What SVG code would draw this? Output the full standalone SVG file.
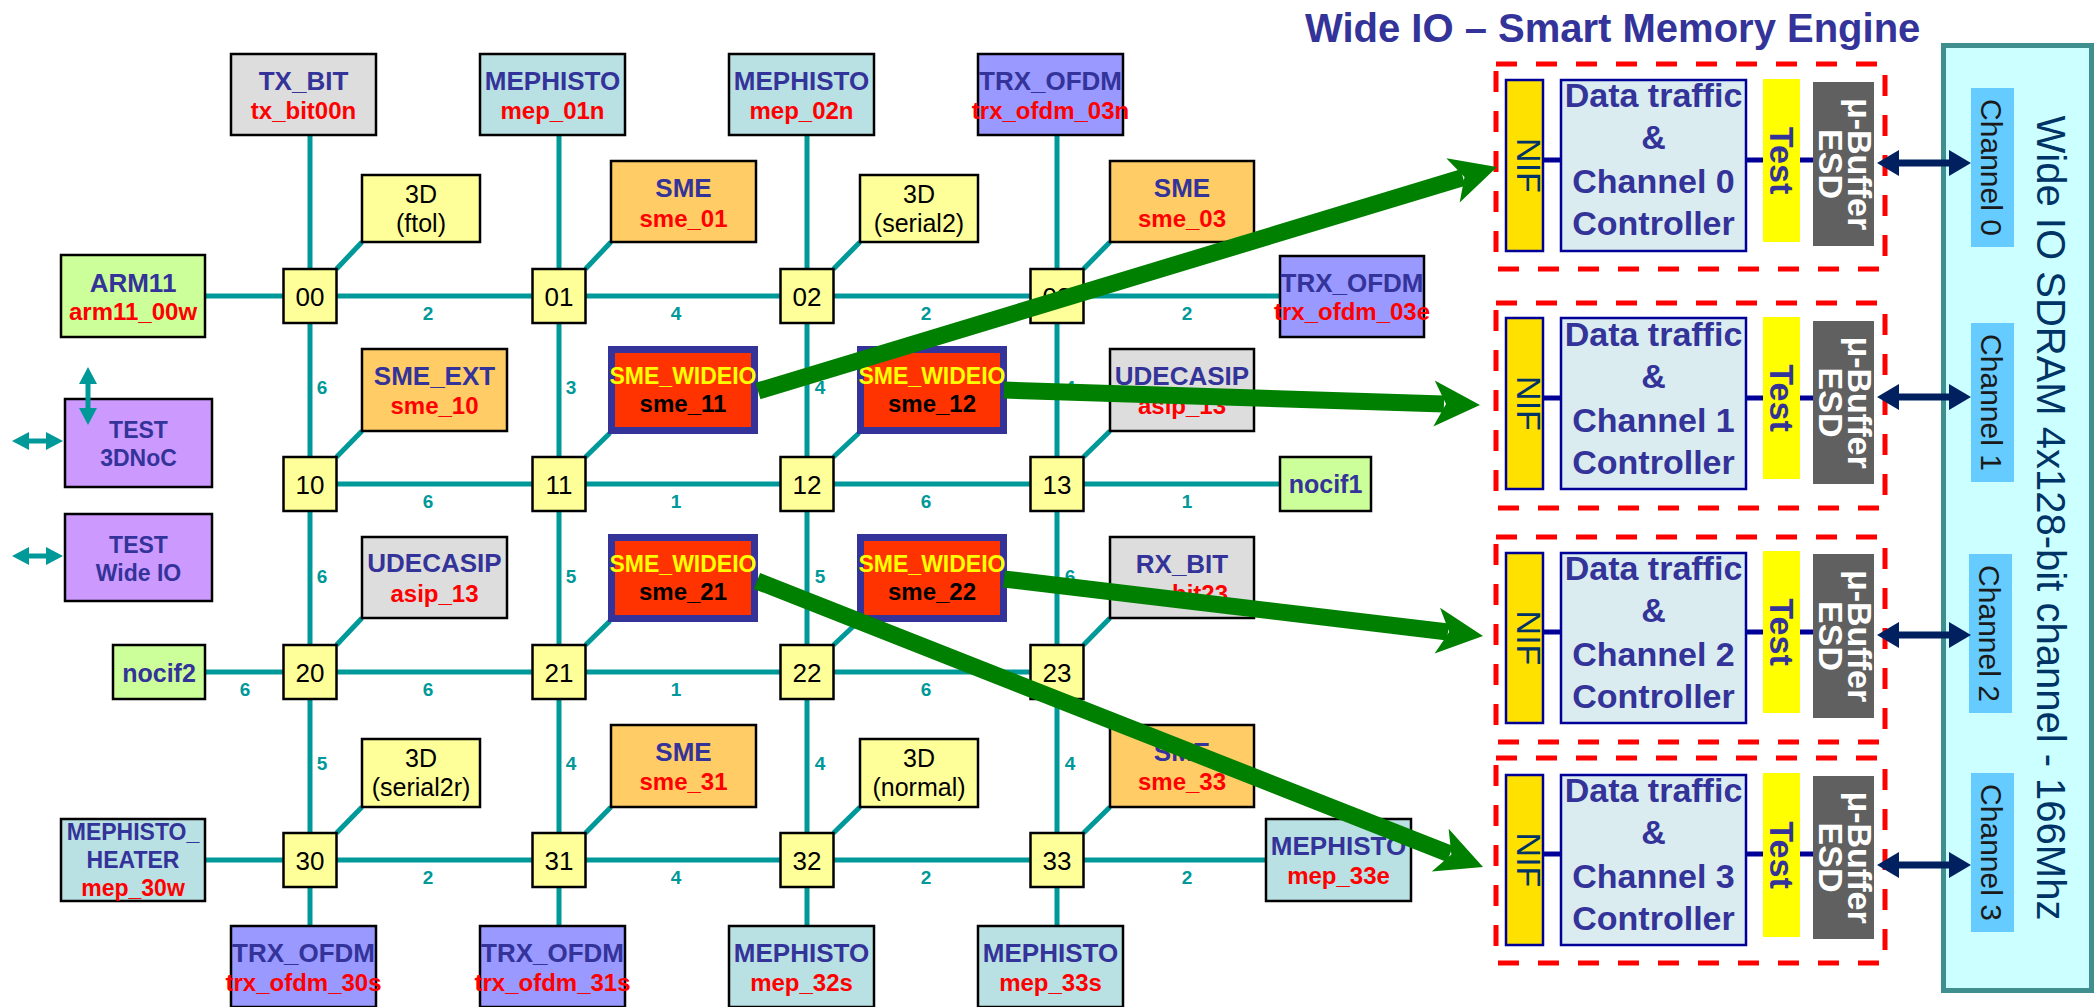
<svg xmlns="http://www.w3.org/2000/svg" xmlns:xlink="http://www.w3.org/1999/xlink" width="2098" height="1007" viewBox="0 0 2098 1007">
<style>
text{font-family:"Liberation Sans",Arial,sans-serif}
.nb{stroke:#000;stroke-width:2.5}
.gray{fill:#DDDDDD}.mep{fill:#B9E0E3}.trx{fill:#9999FF}.sme{fill:#FFCC66}.d3b{fill:#FFFF99}.grn{fill:#CCFF99}.tst{fill:#CC99FF}
.wio{fill:#FF3300;stroke:#333399;stroke-width:7}
.t1{font-weight:bold;font-size:26px;fill:#333399;text-anchor:middle}
.t2{font-weight:bold;font-size:24px;fill:#FF0000;text-anchor:middle}
.t3{font-weight:bold;font-size:23px;fill:#333399;text-anchor:middle}
.ty{font-weight:bold;font-size:23px;fill:#FFFF00;text-anchor:middle}
.tk{font-weight:bold;font-size:24px;fill:#000;text-anchor:middle}
.rt{font-size:26px;fill:#000;text-anchor:middle}
.d3{font-size:25px;fill:#000;text-anchor:middle}
.lk{font-weight:bold;font-size:19px;fill:#009999;text-anchor:middle}
.ln{stroke:#009999;stroke-width:5;fill:none}
.tarr{fill:#009999}
.dash{fill:none;stroke:#FF0000;stroke-width:5;stroke-dasharray:21 19}
.nif{fill:#FFE100;stroke:#000099;stroke-width:2.5}
.dat{fill:#DAECEF;stroke:#000099;stroke-width:2.5}
.tstb{fill:#FFFF00}
.mub{fill:#606060}
.nav{stroke:#000099;stroke-width:5}
.dt{font-weight:bold;font-size:34px;fill:#333399;text-anchor:middle}
.nt{font-size:34px;fill:#003366;text-anchor:middle}
.mt{font-weight:bold;font-size:34px;fill:#FFFFFF;text-anchor:middle}
.ch{fill:#66CCFF}
.cht{font-size:30px;fill:#1a1a1a;text-anchor:middle}
.ga{stroke:#008000;stroke-width:17;fill:none}
.gh{fill:#008000}
.dbl{fill:#002060}
</style>
<defs>
<polygon id="ghead" points="0,0 -46,-23 -34,0 -46,23"/>
<path id="dblarr" d="M1877,0 L1899,-13 L1899,-3.5 L1949,-3.5 L1949,-13 L1971,0 L1949,13 L1949,3.5 L1899,3.5 L1899,13 Z"/>
<path id="tharr" d="M12,0 L29,-9 L29,-2.5 L46,-2.5 L46,-9 L63,0 L46,9 L46,2.5 L29,2.5 L29,9 Z"/>
</defs>
<rect width="2098" height="1007" fill="#FFFFFF"/>

<!-- connectors -->
<g id="connectors">
<line class="ln" x1="310" y1="135" x2="310" y2="926"/>
<line class="ln" x1="559" y1="135" x2="559" y2="926"/>
<line class="ln" x1="807" y1="135" x2="807" y2="926"/>
<line class="ln" x1="1057" y1="135" x2="1057" y2="926"/>
<line class="ln" x1="205" y1="296" x2="1280" y2="296"/>
<line class="ln" x1="310" y1="484" x2="1280" y2="484"/>
<line class="ln" x1="205" y1="672" x2="1057" y2="672"/>
<line class="ln" x1="205" y1="860" x2="1266" y2="860"/>
<line class="ln" x1="336.5" y1="269" x2="362" y2="242"/>
<line class="ln" x1="585.5" y1="269" x2="611" y2="242"/>
<line class="ln" x1="833.5" y1="269" x2="860" y2="242"/>
<line class="ln" x1="1083.5" y1="269" x2="1110" y2="242"/>
<line class="ln" x1="336.5" y1="457" x2="362" y2="431"/>
<line class="ln" x1="585.5" y1="457" x2="610" y2="433"/>
<line class="ln" x1="833.5" y1="457" x2="859" y2="433"/>
<line class="ln" x1="1083.5" y1="457" x2="1110" y2="431"/>
<line class="ln" x1="336.5" y1="645" x2="362" y2="618"/>
<line class="ln" x1="585.5" y1="645" x2="610" y2="621"/>
<line class="ln" x1="833.5" y1="645" x2="859" y2="621"/>
<line class="ln" x1="1083.5" y1="645" x2="1110" y2="618"/>
<line class="ln" x1="336.5" y1="833" x2="362" y2="807"/>
<line class="ln" x1="585.5" y1="833" x2="611" y2="807"/>
<line class="ln" x1="833.5" y1="833" x2="860" y2="807"/>
<line class="ln" x1="1083.5" y1="833" x2="1110" y2="807"/>
<use href="#tharr" xlink:href="#tharr" class="tarr" y="441"/>
<use href="#tharr" xlink:href="#tharr" class="tarr" y="556"/>
<!-- channel internal links -->
<line class="nav" x1="1543" y1="160" x2="1813" y2="160"/>
<line class="nav" x1="1543" y1="398" x2="1813" y2="398"/>
<line class="nav" x1="1543" y1="632" x2="1813" y2="632"/>
<line class="nav" x1="1543" y1="854" x2="1813" y2="854"/>
</g>

<!-- link labels -->
<g id="link-labels">
<text class="lk" x="428" y="320">2</text><text class="lk" x="676" y="320">4</text><text class="lk" x="926" y="320">2</text><text class="lk" x="1187" y="320">2</text>
<text class="lk" x="428" y="508">6</text><text class="lk" x="676" y="508">1</text><text class="lk" x="926" y="508">6</text><text class="lk" x="1187" y="508">1</text>
<text class="lk" x="245" y="696">6</text><text class="lk" x="428" y="696">6</text><text class="lk" x="676" y="696">1</text><text class="lk" x="926" y="696">6</text>
<text class="lk" x="428" y="884">2</text><text class="lk" x="676" y="884">4</text><text class="lk" x="926" y="884">2</text><text class="lk" x="1187" y="884">2</text>
<text class="lk" x="322" y="394">6</text><text class="lk" x="571" y="394">3</text><text class="lk" x="820" y="394">4</text><text class="lk" x="1070" y="394">4</text>
<text class="lk" x="322" y="583">6</text><text class="lk" x="571" y="583">5</text><text class="lk" x="820" y="583">5</text><text class="lk" x="1070" y="583">6</text>
<text class="lk" x="322" y="770">5</text><text class="lk" x="571" y="770">4</text><text class="lk" x="820" y="770">4</text><text class="lk" x="1070" y="770">4</text>
</g>

<!-- routers -->
<g id="r00"><rect class="nb d3b" x="283.5" y="269" width="53" height="54"/><text class="rt" x="310" y="306">00</text></g>
<g id="r01"><rect class="nb d3b" x="532.5" y="269" width="53" height="54"/><text class="rt" x="559" y="306">01</text></g>
<g id="r02"><rect class="nb d3b" x="780.5" y="269" width="53" height="54"/><text class="rt" x="807" y="306">02</text></g>
<g id="r03"><rect class="nb d3b" x="1030.5" y="269" width="53" height="54"/><text class="rt" x="1057" y="306">03</text></g>
<g id="r10"><rect class="nb d3b" x="283.5" y="457" width="53" height="54"/><text class="rt" x="310" y="494">10</text></g>
<g id="r11"><rect class="nb d3b" x="532.5" y="457" width="53" height="54"/><text class="rt" x="559" y="494">11</text></g>
<g id="r12"><rect class="nb d3b" x="780.5" y="457" width="53" height="54"/><text class="rt" x="807" y="494">12</text></g>
<g id="r13"><rect class="nb d3b" x="1030.5" y="457" width="53" height="54"/><text class="rt" x="1057" y="494">13</text></g>
<g id="r20"><rect class="nb d3b" x="283.5" y="645" width="53" height="54"/><text class="rt" x="310" y="682">20</text></g>
<g id="r21"><rect class="nb d3b" x="532.5" y="645" width="53" height="54"/><text class="rt" x="559" y="682">21</text></g>
<g id="r22"><rect class="nb d3b" x="780.5" y="645" width="53" height="54"/><text class="rt" x="807" y="682">22</text></g>
<g id="r23"><rect class="nb d3b" x="1030.5" y="645" width="53" height="54"/><text class="rt" x="1057" y="682">23</text></g>
<g id="r30"><rect class="nb d3b" x="283.5" y="833" width="53" height="54"/><text class="rt" x="310" y="870">30</text></g>
<g id="r31"><rect class="nb d3b" x="532.5" y="833" width="53" height="54"/><text class="rt" x="559" y="870">31</text></g>
<g id="r32"><rect class="nb d3b" x="780.5" y="833" width="53" height="54"/><text class="rt" x="807" y="870">32</text></g>
<g id="r33"><rect class="nb d3b" x="1030.5" y="833" width="53" height="54"/><text class="rt" x="1057" y="870">33</text></g>

<!-- top / bottom nodes -->
<g id="tx_bit00n"><rect class="nb gray" x="231" y="54" width="145" height="81"/><text class="t1" x="303.5" y="90">TX_BIT</text><text class="t2" x="303.5" y="119">tx_bit00n</text></g>
<g id="mep_01n"><rect class="nb mep" x="480" y="54" width="145" height="81"/><text class="t1" x="552.5" y="90">MEPHISTO</text><text class="t2" x="552.5" y="119">mep_01n</text></g>
<g id="mep_02n"><rect class="nb mep" x="729" y="54" width="145" height="81"/><text class="t1" x="801.5" y="90">MEPHISTO</text><text class="t2" x="801.5" y="119">mep_02n</text></g>
<g id="trx_ofdm_03n"><rect class="nb trx" x="978" y="54" width="145" height="81"/><text class="t1" x="1050.5" y="90">TRX_OFDM</text><text class="t2" x="1050.5" y="119">trx_ofdm_03n</text></g>
<g id="trx_ofdm_30s"><rect class="nb trx" x="231" y="926" width="145" height="81"/><text class="t1" x="303.5" y="962">TRX_OFDM</text><text class="t2" x="303.5" y="991">trx_ofdm_30s</text></g>
<g id="trx_ofdm_31s"><rect class="nb trx" x="480" y="926" width="145" height="81"/><text class="t1" x="552.5" y="962">TRX_OFDM</text><text class="t2" x="552.5" y="991">trx_ofdm_31s</text></g>
<g id="mep_32s"><rect class="nb mep" x="729" y="926" width="145" height="81"/><text class="t1" x="801.5" y="962">MEPHISTO</text><text class="t2" x="801.5" y="991">mep_32s</text></g>
<g id="mep_33s"><rect class="nb mep" x="978" y="926" width="145" height="81"/><text class="t1" x="1050.5" y="962">MEPHISTO</text><text class="t2" x="1050.5" y="991">mep_33s</text></g>

<!-- left / right nodes -->
<g id="arm11_00w"><rect class="nb grn" x="61" y="255" width="144" height="82"/><text class="t1" x="133" y="292">ARM11</text><text class="t2" x="133" y="320">arm11_00w</text></g>
<g id="test_3dnoc"><rect class="nb tst" x="65" y="399" width="147" height="88"/><text class="t3" x="138.5" y="438">TEST</text><text class="t3" x="138.5" y="466">3DNoC</text></g>
<g id="test_wideio"><rect class="nb tst" x="65" y="514" width="147" height="87"/><text class="t3" x="138.5" y="553">TEST</text><text class="t3" x="138.5" y="581">Wide IO</text></g>
<g id="nocif2"><rect class="nb grn" x="113" y="645" width="92" height="54"/><text class="t1" x="159" y="682" style="font-size:25px">nocif2</text></g>
<g id="mep_30w"><rect class="nb mep" x="61" y="819" width="144" height="82"/><text class="t3" x="133" y="840">MEPHISTO_</text><text class="t3" x="133" y="868">HEATER</text><text class="t2" x="133" y="896" style="font-size:23px">mep_30w</text></g>
<g id="trx_ofdm_03e"><rect class="nb trx" x="1280" y="256" width="144" height="81"/><text class="t1" x="1352" y="292">TRX_OFDM</text><text class="t2" x="1352" y="320">trx_ofdm_03e</text></g>
<g id="nocif1"><rect class="nb grn" x="1280" y="457" width="91" height="54"/><text class="t1" x="1325.5" y="493" style="font-size:25px">nocif1</text></g>
<g id="mep_33e"><rect class="nb mep" x="1266" y="819" width="145" height="82"/><text class="t1" x="1338.5" y="855">MEPHISTO</text><text class="t2" x="1338.5" y="884">mep_33e</text></g>

<!-- vertical test arrow, drawn over the TEST 3DNoC box -->
<g id="test-vertical-arrow">
<path class="tarr" d="M88,367 L97,384 L90.5,384 L90.5,408 L97,408 L88,425 L79,408 L85.5,408 L85.5,384 L79,384 Z"/>
</g>

<!-- attached nodes row 0 -->
<g id="d3_ftol"><rect class="nb d3b" x="362" y="175" width="118" height="67"/><text class="d3" x="421" y="203">3D</text><text class="d3" x="421" y="232">(ftol)</text></g>
<g id="sme_01"><rect class="nb sme" x="611" y="161" width="145" height="81"/><text class="t1" x="683.5" y="197">SME</text><text class="t2" x="683.5" y="227">sme_01</text></g>
<g id="d3_serial2"><rect class="nb d3b" x="860" y="175" width="118" height="67"/><text class="d3" x="919" y="203">3D</text><text class="d3" x="919" y="232">(serial2)</text></g>
<g id="sme_03"><rect class="nb sme" x="1110" y="161" width="144" height="81"/><text class="t1" x="1182" y="197">SME</text><text class="t2" x="1182" y="227">sme_03</text></g>
<!-- row 1 -->
<g id="sme_10"><rect class="nb sme" x="362" y="349" width="145" height="82"/><text class="t1" x="434.5" y="385">SME_EXT</text><text class="t2" x="434.5" y="414">sme_10</text></g>
<g id="sme_11"><rect class="wio" x="611.5" y="349.5" width="143" height="81"/><text class="ty" x="683" y="384">SME_WIDEIO</text><text class="tk" x="683" y="412">sme_11</text></g>
<g id="sme_12"><rect class="wio" x="860.5" y="349.5" width="143" height="81"/><text class="ty" x="932" y="384">SME_WIDEIO</text><text class="tk" x="932" y="412">sme_12</text></g>
<g id="asip_13_a"><rect class="nb gray" x="1110" y="349" width="144" height="82"/><text class="t1" x="1182" y="385">UDECASIP</text><text class="t2" x="1182" y="414">asip_13</text></g>
<!-- row 2 -->
<g id="asip_13_b"><rect class="nb gray" x="362" y="537" width="145" height="81"/><text class="t1" x="434.5" y="572">UDECASIP</text><text class="t2" x="434.5" y="602">asip_13</text></g>
<g id="sme_21"><rect class="wio" x="611.5" y="537.5" width="143" height="81"/><text class="ty" x="683" y="572">SME_WIDEIO</text><text class="tk" x="683" y="600">sme_21</text></g>
<g id="sme_22"><rect class="wio" x="860.5" y="537.5" width="143" height="81"/><text class="ty" x="932" y="572">SME_WIDEIO</text><text class="tk" x="932" y="600">sme_22</text></g>
<g id="rx_bit23"><rect class="nb gray" x="1110" y="537" width="144" height="81"/><text class="t1" x="1182" y="573">RX_BIT</text><text class="t2" x="1182" y="602">rx_bit23</text></g>
<!-- row 3 -->
<g id="d3_serial2r"><rect class="nb d3b" x="362" y="739" width="118" height="68"/><text class="d3" x="421" y="767">3D</text><text class="d3" x="421" y="796">(serial2r)</text></g>
<g id="sme_31"><rect class="nb sme" x="611" y="725" width="145" height="82"/><text class="t1" x="683.5" y="761">SME</text><text class="t2" x="683.5" y="790">sme_31</text></g>
<g id="d3_normal"><rect class="nb d3b" x="860" y="739" width="118" height="68"/><text class="d3" x="919" y="767">3D</text><text class="d3" x="919" y="796">(normal)</text></g>
<g id="sme_33"><rect class="nb sme" x="1110" y="725" width="144" height="82"/><text class="t1" x="1182" y="761">SME</text><text class="t2" x="1182" y="790">sme_33</text></g>

<!-- right block -->
<text id="title" x="1305" y="42" style="font-weight:bold;font-size:40px;fill:#333399">Wide IO – Smart Memory Engine</text>

<g id="sdram">
<rect x="1943.5" y="45.5" width="148" height="945" fill="#CCFFFF" stroke="#3F8F8F" stroke-width="5"/>
<text transform="translate(2051,518) rotate(90)" x="0" y="14" style="font-size:40px;fill:#003366;text-anchor:middle">Wide IO SDRAM 4x128-bit channel - 166Mhz</text>
</g>
<g id="channel0"><rect class="ch" x="1971" y="88" width="43" height="159"/><text class="cht" transform="translate(1992,167.5) rotate(90)" y="11">Channel 0</text></g>
<g id="channel1"><rect class="ch" x="1971" y="323" width="43" height="159"/><text class="cht" transform="translate(1992,402.5) rotate(90)" y="11">Channel 1</text></g>
<g id="channel2"><rect class="ch" x="1969" y="554" width="43" height="159"/><text class="cht" transform="translate(1990,633.5) rotate(90)" y="11">Channel 2</text></g>
<g id="channel3"><rect class="ch" x="1971" y="773" width="43" height="159"/><text class="cht" transform="translate(1992,852.5) rotate(90)" y="11">Channel 3</text></g>

<g id="ctrl0">
<rect class="dash" x="1496" y="64" width="389" height="205"/>
<rect class="nif" x="1506" y="80" width="37" height="171"/><text class="nt" transform="translate(1529,165.5) rotate(90)" y="12">NIF</text>
<rect class="dat" x="1561" y="80" width="185" height="171"/>
<text class="dt" x="1653.5" y="107">Data traffic</text><text class="dt" x="1653.5" y="149">&amp;</text><text class="dt" x="1653.5" y="193">Channel 0</text><text class="dt" x="1653.5" y="235">Controller</text>
<rect class="tstb" x="1763" y="79" width="37" height="163"/><text class="dt" transform="translate(1781.5,160.5) rotate(90)" y="12">Test</text>
<rect class="mub" x="1813" y="82" width="61" height="164"/><text class="mt" transform="translate(1843.5,164) rotate(90)"><tspan x="0" y="-4">μ-Buffer</tspan><tspan x="0" y="25">ESD</tspan></text>
</g>
<g id="ctrl1">
<rect class="dash" x="1496" y="303" width="389" height="205"/>
<rect class="nif" x="1506" y="318" width="37" height="171"/><text class="nt" transform="translate(1529,403.5) rotate(90)" y="12">NIF</text>
<rect class="dat" x="1561" y="318" width="185" height="171"/>
<text class="dt" x="1653.5" y="346">Data traffic</text><text class="dt" x="1653.5" y="388">&amp;</text><text class="dt" x="1653.5" y="432">Channel 1</text><text class="dt" x="1653.5" y="474">Controller</text>
<rect class="tstb" x="1763" y="317" width="37" height="162"/><text class="dt" transform="translate(1781.5,398) rotate(90)" y="12">Test</text>
<rect class="mub" x="1813" y="321" width="61" height="163"/><text class="mt" transform="translate(1843.5,402.5) rotate(90)"><tspan x="0" y="-4">μ-Buffer</tspan><tspan x="0" y="25">ESD</tspan></text>
</g>
<g id="ctrl2">
<rect class="dash" x="1496" y="537" width="389" height="205"/>
<rect class="nif" x="1506" y="553" width="37" height="170"/><text class="nt" transform="translate(1529,638) rotate(90)" y="12">NIF</text>
<rect class="dat" x="1561" y="553" width="185" height="170"/>
<text class="dt" x="1653.5" y="580">Data traffic</text><text class="dt" x="1653.5" y="622">&amp;</text><text class="dt" x="1653.5" y="666">Channel 2</text><text class="dt" x="1653.5" y="708">Controller</text>
<rect class="tstb" x="1763" y="551" width="37" height="162"/><text class="dt" transform="translate(1781.5,632) rotate(90)" y="12">Test</text>
<rect class="mub" x="1813" y="554" width="61" height="164"/><text class="mt" transform="translate(1843.5,636) rotate(90)"><tspan x="0" y="-4">μ-Buffer</tspan><tspan x="0" y="25">ESD</tspan></text>
</g>
<g id="ctrl3">
<rect class="dash" x="1496" y="758" width="389" height="205"/>
<rect class="nif" x="1506" y="775" width="37" height="170"/><text class="nt" transform="translate(1529,860) rotate(90)" y="12">NIF</text>
<rect class="dat" x="1561" y="775" width="185" height="170"/>
<text class="dt" x="1653.5" y="802">Data traffic</text><text class="dt" x="1653.5" y="844">&amp;</text><text class="dt" x="1653.5" y="888">Channel 3</text><text class="dt" x="1653.5" y="930">Controller</text>
<rect class="tstb" x="1763" y="773" width="37" height="164"/><text class="dt" transform="translate(1781.5,855) rotate(90)" y="12">Test</text>
<rect class="mub" x="1813" y="776" width="61" height="163"/><text class="mt" transform="translate(1843.5,857.5) rotate(90)"><tspan x="0" y="-4">μ-Buffer</tspan><tspan x="0" y="25">ESD</tspan></text>
</g>

<g id="channel-links">
<use href="#dblarr" xlink:href="#dblarr" class="dbl" y="163"/>
<use href="#dblarr" xlink:href="#dblarr" class="dbl" y="397"/>
<use href="#dblarr" xlink:href="#dblarr" class="dbl" y="635"/>
<use href="#dblarr" xlink:href="#dblarr" class="dbl" y="865"/>
</g>

<!-- green arrows -->
<g id="wideio-arrows">
<line class="ga" x1="758" y1="391" x2="1463" y2="177.5"/>
<use href="#ghead" xlink:href="#ghead" class="gh" transform="translate(1497,167) rotate(-16.91)"/>
<line class="ga" x1="1004" y1="390" x2="1444" y2="404"/>
<use href="#ghead" xlink:href="#ghead" class="gh" transform="translate(1480,405) rotate(1.8)"/>
<line class="ga" x1="1004" y1="579" x2="1448" y2="632"/>
<use href="#ghead" xlink:href="#ghead" class="gh" transform="translate(1483,636) rotate(6.79)"/>
<line class="ga" x1="757" y1="581" x2="1450" y2="854"/>
<use href="#ghead" xlink:href="#ghead" class="gh" transform="translate(1483,867) rotate(21.5)"/>
</g>
</svg>
